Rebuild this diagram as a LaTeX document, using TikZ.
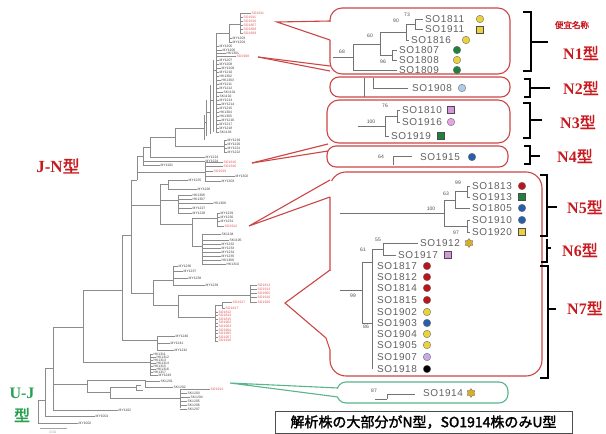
\documentclass[tikz,border=0pt]{standalone}
\usepackage{fontspec}
\setmainfont{Liberation Sans}
\newfontfamily\tms{Liberation Serif}
\newfontfamily\sof{Liberation Sans}[LetterSpace=6]
\newfontfamily\cjk{Noto Sans CJK JP}[AutoFakeBold=2]
\usetikzlibrary{shapes.geometric}
\definecolor{cbox}{RGB}{205,70,70}
\definecolor{ctype}{RGB}{200,25,30}
\definecolor{ctr}{RGB}{225,85,85}
\definecolor{cgbox}{RGB}{90,180,140}
\definecolor{cgt}{RGB}{40,160,80}
\definecolor{myel}{RGB}{235,210,60}
\definecolor{mgrn}{RGB}{30,130,60}
\definecolor{mred}{RGB}{190,20,25}
\definecolor{mblu}{RGB}{40,95,170}
\definecolor{mlbl}{RGB}{175,205,235}
\definecolor{mpnk}{RGB}{230,165,225}
\definecolor{mvio}{RGB}{215,150,220}
\definecolor{mlpr}{RGB}{200,170,235}
\definecolor{mstar}{RGB}{215,175,40}
\newcount\lfc
\newcommand\tvl[3]{\draw[br] (#1,#2) -- (#1,#3);}
\newcommand\thl[3]{\draw[br] (#2,#1) -- (#3,#1);}
\newcommand\gl[4]{\draw[br] (#1,#3) -- (#2,#3); \global\advance\lfc by 1 \node[tl] (lf\the\lfc) at (#2+0.5,#3) {#4};}
\newcommand\rl[4]{\draw[br] (#1,#3) -- (#2,#3); \global\advance\lfc by 1 \node[tl,text=ctr] (lf\the\lfc) at (#2+0.5,#3) {#4};}
\newcommand\mkc[3]{\global\advance\lfc by 1 \node[mk,fill=#3] (mk\the\lfc) at (#1,#2) {};}
\newcommand\mks[3]{\global\advance\lfc by 1 \node[sq,fill=#3] (mk\the\lfc) at (#1,#2) {};}
\newcommand\mkt[2]{\global\advance\lfc by 1 \node[st] (mk\the\lfc) at (#1,#2) {};}
\newcommand\so[3]{\global\advance\lfc by 1 \node[so] (so\the\lfc) at (#1,#2) {#3};}
\newcommand\bsn[3]{\global\advance\lfc by 1 \node[bs] (bs\the\lfc) at (#1,#2) {#3};}
\newcommand\cl[4]{\draw[ct] (#1,#2) -- (#3,#4);}
\begin{document}
\begin{tikzpicture}[x=1pt,y=-1pt,
  br/.style={draw=black!45, line width=0.35pt},
  tl/.style={font=\fontsize{3.4}{3.4}\selectfont, text=black!75, inner sep=0pt, anchor=west},
  so/.style={font=\sof\fontsize{10}{10}\selectfont, text=black!62, inner sep=0pt, anchor=west},
  bs/.style={font=\fontsize{5}{5}\selectfont, text=black!70, inner sep=0pt},
  ct/.style={draw=black!55, line width=0.6pt},
  rbox/.style={draw=cbox, line width=1.1pt},
  gbox/.style={draw=cgbox, line width=1.1pt},
  brk/.style={draw=black, line width=1.8pt},
  ty/.style={text=ctype, inner sep=0pt, font=\fontsize{16}{16}\selectfont},
  mk/.style={circle, draw=black!60, line width=0.35pt, minimum size=7.5pt, inner sep=0pt},
  sq/.style={rectangle, draw=black!70, line width=0.4pt, minimum size=7pt, inner sep=0pt},
  st/.style={star, star points=6, star point ratio=1.5, draw=black!60, line width=0.3pt, fill=mstar, minimum size=9pt, inner sep=0pt}]
\useasboundingbox (0,0) rectangle (606,434);
\fill[white] (0,0) rectangle (606,434);

% ================= left tree =================
% top red N1 cluster
\tvl{240}{13}{33}
\rl{240}{251}{13}{SO1811}
\rl{240}{243}{17}{SO1911}
\rl{240}{243}{21}{SO1816}
\rl{240}{243}{25}{SO1807}
\rl{240}{243}{29}{SO1808}
\rl{240}{243}{33}{SO1809}
\tvl{229}{24}{42}
\thl{24}{229}{240}
\gl{229}{232}{38}{MY1203}
\gl{229}{232}{42}{MY1204}
\tvl{216}{33}{132}
\thl{33}{216}{229}
\foreach \y/\x/\t in {46/219/MY1205,50/222/MY1206,53/226/HK1301,60/219/MY1207,64/219/MY1208,68/221/MY1209,72/219/MY1210,76/219/HK1302,80/221/HK1303,84/219/MY1211,88/219/MY1212,92/223/SK1101,96/219/SK1102,100/219/MY1213,104/221/MY1214,108/219/MY1215,112/219/HK1304,116/219/HK1305,120/221/MY1216,124/219/MY1217,128/219/MY1218,132/219/SK1103}{\gl{216}{\x}{\y}{\t}}
\rl{216}{236}{56.5}{SO1908}
\tvl{213}{60}{132}
\thl{70}{213}{216}
\tvl{210}{85}{134}
\thl{100}{210}{213}
\tvl{206}{100}{136}
\thl{112}{206}{210}
\tvl{204}{115}{140}
\thl{122}{204}{206}
% upper middle
\tvl{175}{128}{146}
\thl{128}{175}{204}
\thl{146}{175}{224}
\tvl{224}{140}{152}
\gl{224}{227}{140}{MY1219}
\gl{224}{227}{144}{MY1220}
\gl{224}{227}{148}{MY1221}
\gl{224}{227}{152}{MY1222}
\tvl{150}{137}{157}
\thl{137}{150}{175}
\gl{150}{205}{157}{MY1223}
\tvl{143}{147}{165}
\thl{147}{143}{150}
\gl{143}{205}{161}{MY1224}
\gl{143}{160}{165}{MY1101}
\tvl{137}{156}{180}
\thl{156}{137}{143}
\thl{172}{137}{205}
\tvl{205}{162}{181}
\rl{205}{223}{162}{SO1810}
\rl{205}{223}{166}{SO1916}
\rl{205}{213}{171}{SO1919}
\gl{205}{235}{176}{MY1302}
\gl{205}{221}{181}{MY1303}
% B4 backbone
\tvl{131}{180}{293}
\thl{180}{131}{137}
\thl{205}{131}{160}
\tvl{160}{184}{224}
\thl{184}{160}{168}
\tvl{168}{180}{189}
\gl{168}{188}{180}{MY1225}
\gl{168}{197}{189}{MY1226}
\thl{200}{160}{178}
\tvl{178}{195}{213}
\gl{178}{192}{195}{HK1306}
\gl{178}{192}{199}{HK1307}
\gl{178}{213}{203}{HK1308}
\gl{178}{192}{208}{MY1227}
\gl{178}{192}{213}{MY1228}
\thl{224}{160}{192}
\tvl{192}{218}{246}
\thl{218}{192}{217}
\tvl{217}{213}{226}
\gl{217}{220}{213}{MY1229}
\gl{217}{220}{217}{MY1230}
\gl{217}{220}{221}{MY1231}
\rl{217}{224}{226}{SO1912}
\thl{246}{192}{202}
\tvl{202}{234}{264}
\gl{202}{221}{234}{SK1104}
\gl{202}{229}{240}{SK1105}
\gl{202}{221}{244}{MY1232}
\gl{202}{221}{248}{MY1233}
\gl{202}{221}{252}{MY1234}
\gl{202}{221}{256}{MY1235}
\gl{202}{221}{260}{HK1309}
\gl{202}{226}{264}{HK1310}
% lower J-N
\tvl{153}{280}{305}
\thl{293}{131}{153}
\thl{280}{153}{173}
\tvl{173}{266}{285}
\gl{173}{178}{266}{MY1236}
\gl{173}{183}{271}{MY1237}
\gl{173}{188}{278}{MY1238}
\gl{173}{205}{285}{MY1239}
\thl{305}{153}{178}
\tvl{178}{295}{317}
\thl{295}{178}{250}
\tvl{250}{285}{302}
\rl{250}{257}{285}{SO1813}
\rl{250}{257}{289}{SO1913}
\rl{250}{257}{293}{SO1805}
\rl{250}{257}{297}{SO1910}
\rl{250}{257}{302}{SO1920}
\thl{317}{178}{215}
\tvl{215}{305}{341}
\thl{305}{215}{222}
\tvl{222}{302}{308}
\rl{222}{232}{302}{SO1917}
\rl{222}{225}{308}{SO1817}
\foreach \y/\t in {312/SO1812,315.6/SO1814,319.2/SO1815,322.8/SO1902,326.4/SO1903,330/SO1904,333.6/SO1905,337.2/SO1907,340.8/SO1918}{\rl{215}{218}{\y}{\t}}
\tvl{122}{235}{340}
\thl{235}{122}{131}
\thl{340}{122}{157}
\tvl{157}{336}{350}
\gl{157}{175}{336}{MY1240}
\gl{157}{170}{343}{MY1241}
\gl{157}{174}{350}{MY1242}
\tvl{83}{290}{362}
\thl{290}{83}{122}
\thl{362}{83}{150}
\tvl{150}{354}{375}
\foreach \y/\x/\t in {354/153/HK1311,357/156/HK1312,360/153/HK1313,363/156/HK1314,366/153/HK1315,369/156/HK1316,372/153/HK1317,375/158/MY1243}{\gl{150}{\x}{\y}{\t}}
\tvl{53}{327}{410}
\thl{327}{53}{83}
\gl{53}{118}{410}{MY1102}
% U-J clade
\thl{384}{53}{87}
\tvl{87}{380}{392}
\thl{380}{87}{145}
\tvl{145}{380}{388}
\gl{145}{160}{381}{SK1201}
\gl{145}{173}{387}{SK1202}
\thl{392}{87}{110}
\tvl{110}{387}{398}
\thl{387}{110}{136}
\tvl{136}{385}{390}
\thl{385}{136}{141}
\thl{390}{136}{143}
\thl{398}{110}{180}
\tvl{180}{389}{408}
\rl{180}{210}{389}{SO1914}
\gl{180}{187}{393}{SK1203}
\gl{180}{190}{397}{SK1204}
\gl{180}{187}{401}{SK1205}
\gl{180}{187}{405}{SK1206}
\gl{180}{187}{409}{SK1207}
% root
\tvl{45}{368}{416}
\thl{368}{45}{53}
\gl{45}{95}{416}{MY1001}
\tvl{38}{400}{423}
\thl{400}{38}{45}
\gl{38}{78}{423}{MY1002}
\draw[draw=black!35, line width=0.4pt] (40,428) -- (67,428);
\node[tl, anchor=center, text=black!40] (scale) at (53,432) {0.01};

% type labels on the left
\node[text=ctype, inner sep=0pt, font=\fontsize{17}{17}\selectfont] (jn) at (58,166) {{\tms\bfseries J-N}{\cjk\bfseries 型}};
\node[text=cgt, inner sep=0pt, font=\fontsize{16}{16}\selectfont] (uj1) at (22,393) {\tms\bfseries U-J};
\node[text=cgt, inner sep=0pt, font=\fontsize{16}{16}\selectfont] (uj2) at (22,415) {\cjk\bfseries 型};

% ================= callout boxes =================
% N1
\draw[rbox, rounded corners=12] (330,8) rectangle (510,74);
\fill[white] (329,21.5) rectangle (331.6,39.5);
\draw[rbox] (330,21) -- (277,22) -- (330,40);
% N2
\draw[rbox, rounded corners=9] (330,77) rectangle (510,97);
\draw[rbox] (258,57) -- (330,66);
\draw[rbox] (258,57) -- (330,71);
% N3, N4
\draw[rbox, rounded corners=12] (327,100) rectangle (510,143);
\draw[rbox, rounded corners=9] (327,146) rectangle (508,167);
\draw[rbox] (252,163) -- (328,144);
\draw[rbox] (252,163) -- (328,151);
% N5-N7
\draw[rbox, rounded corners=16] (330,172) rectangle (542,376);
\fill[white] (329,180.5) rectangle (331.6,196.5);
\fill[white] (329,270.5) rectangle (331.6,349.5);
\draw[rbox] (330,180) -- (249,226) -- (330,197);
\draw[rbox] (330,270) -- (285,303) -- (326,338) -- (330,350);
% U-J
\draw[gbox, rounded corners=9] (337,382) rectangle (508,403);
\fill[white] (336,388.5) rectangle (338.6,396.5);
\draw[gbox] (338,388) -- (230,383) -- (338,397);

% ---- N1 contents
\cl{415}{19}{415}{29.5}\cl{415}{19}{423}{19}\cl{415}{29.5}{423}{29.5}
\cl{406}{24.3}{406}{40}\cl{406}{24.3}{415}{24.3}\cl{406}{40}{409}{40}
\cl{380}{32}{380}{55}\cl{380}{32}{406}{32}\cl{380}{55}{392}{55}
\cl{392}{50}{392}{60}\cl{392}{50}{397}{50}\cl{392}{60}{397}{60}
\cl{353}{44}{353}{70}\cl{353}{44}{380}{44}\cl{353}{70}{397}{70}\cl{333}{57}{353}{57}
\bsn{407}{15}{73}\bsn{396}{21}{90}\bsn{370}{36}{60}\bsn{383}{62}{96}\bsn{342}{52}{68}
\so{425}{19}{SO1811}\mkc{480}{19}{myel}
\so{425}{29.5}{SO1911}\mks{480}{29.5}{myel}
\so{411}{40}{SO1816}\mkc{466}{40}{myel}
\so{399}{50}{SO1807}\mkc{457}{50}{mgrn}
\so{399}{60}{SO1808}\mkc{457}{60}{myel}
\so{399}{70}{SO1809}\mkc{457}{70}{mgrn}
% ---- N2 contents
\cl{364}{77.5}{364}{96.5}\cl{373}{77.5}{373}{88}\cl{373}{88}{408}{88}
\so{412}{88}{SO1908}\mkc{462}{88}{mlbl}
% ---- N3 contents
\cl{397}{110}{397}{122}\cl{397}{110}{400}{110}\cl{397}{122}{400}{122}
\cl{385}{116}{385}{136}\cl{385}{116}{397}{116}\cl{385}{136}{389}{136}\cl{358}{126}{385}{126}
\bsn{385}{106}{76}\bsn{371}{122}{100}
\so{402}{110}{SO1810}\mks{451}{110}{mvio}
\so{402}{122}{SO1916}\mkc{451}{122}{mpnk}
\so{391}{136}{SO1919}\mks{441}{136}{mgrn}
% ---- N4 contents
\cl{393}{156}{393}{165}\cl{393}{156}{412}{156}
\bsn{381}{157}{64}
\so{420}{157}{SO1915}\mkc{472}{157}{mblu}
% ---- N5 contents
\cl{467}{186}{467}{197}\cl{467}{186}{470}{186}\cl{467}{197}{470}{197}
\cl{455}{191.5}{455}{208}\cl{455}{191.5}{467}{191.5}\cl{455}{208}{470}{208}
\cl{444}{200}{444}{226}\cl{444}{200}{455}{200}\cl{444}{226}{467}{226}
\cl{467}{220}{467}{232}\cl{467}{220}{470}{220}\cl{467}{232}{470}{232}
\cl{340}{213}{444}{213}
\bsn{458}{183}{99}\bsn{446}{194}{63}\bsn{431}{209}{100}\bsn{456}{233}{97}
\so{472}{186}{SO1813}\mkc{522}{186}{mred}
\so{472}{197}{SO1913}\mks{522}{197}{mgrn}
\so{472}{208}{SO1805}\mkc{522}{208}{mblu}
\so{472}{220}{SO1910}\mkc{522}{220}{mblu}
\so{472}{232}{SO1920}\mks{522}{232}{myel}
% ---- N6 / N7 contents
\cl{383}{243}{383}{255}\cl{383}{243}{418}{243}\cl{383}{255}{396}{255}
\cl{372}{249}{372}{369}\cl{372}{249}{383}{249}
\cl{362}{262}{362}{323}\cl{362}{262}{372}{262}\cl{362}{323}{372}{323}\cl{340}{290}{362}{290}
\bsn{378}{240}{55}\bsn{363}{250}{61}\bsn{353}{296}{99}\bsn{366}{327}{86}
\so{420}{243}{SO1912}\mkt{469}{243}
\so{398}{255}{SO1917}\mks{448}{255}{mvio}
\foreach \y/\t/\c in {266/SO1817/mred,277/SO1812/mred,288/SO1814/mred,300/SO1815/mred,312/SO1902/myel,323/SO1903/mblu,334/SO1904/myel,345/SO1905/myel,357/SO1907/mlpr,369/SO1918/black}{\so{377}{\y}{\t}\mkc{427}{\y}{\c}}
% ---- U-J contents
\cl{375}{399}{387}{399}\cl{387}{394}{387}{399}\cl{387}{394}{415}{394}
\bsn{374}{391}{87}
\so{423}{393}{SO1914}\mkt{471}{393}

% ================= brackets & type names =================
\draw[brk] (523,12) -- (531,12) -- (531,71) -- (523,71);
\draw[brk] (531,42) -- (548,42);
\draw[brk] (524,79) -- (530,79) -- (530,97) -- (524,97);
\draw[brk] (530,88) -- (550,88);
\draw[brk] (523,103) -- (530,103) -- (530,138) -- (523,138);
\draw[brk] (530,120) -- (542,120);
\draw[brk] (524,146) -- (530,146) -- (530,164) -- (524,164);
\draw[brk] (530,156) -- (540,156);
\draw[brk] (540,175) -- (547,175) -- (547,236) -- (540,236);
\draw[brk] (547,207) -- (557,207);
\draw[brk] (547,239) -- (547,262) -- (541,262);
\draw[brk] (547,248) -- (551,248);
\draw[brk] (540,266) -- (548,266) -- (548,378) -- (540,378);
\draw[brk] (548,309) -- (556,309);

\node[text=ctype, inner sep=0pt, font=\fontsize{8.5}{8.5}\selectfont] (bn) at (572,25) {\cjk\bfseries 便宜名称};
\node[ty] (t1) at (581,53) {{\tms\bfseries N1}{\cjk\bfseries 型}};
\node[ty] (t2) at (581,88) {{\tms\bfseries N2}{\cjk\bfseries 型}};
\node[ty] (t3) at (578,122) {{\tms\bfseries N3}{\cjk\bfseries 型}};
\node[ty] (t4) at (575,156) {{\tms\bfseries N4}{\cjk\bfseries 型}};
\node[ty] (t5) at (585,207) {{\tms\bfseries N5}{\cjk\bfseries 型}};
\node[ty] (t6) at (580,250) {{\tms\bfseries N6}{\cjk\bfseries 型}};
\node[ty] (t7) at (585,308) {{\tms\bfseries N7}{\cjk\bfseries 型}};

% bottom note
\node[draw=black!70, line width=0.8pt, minimum width=297pt, minimum height=22pt, inner sep=0pt, font=\fontsize{14}{14}\selectfont] (note) at (423.5,422) {\cjk\bfseries 解析株の大部分がN型，SO1914株のみU型};
\end{tikzpicture}
\end{document}
